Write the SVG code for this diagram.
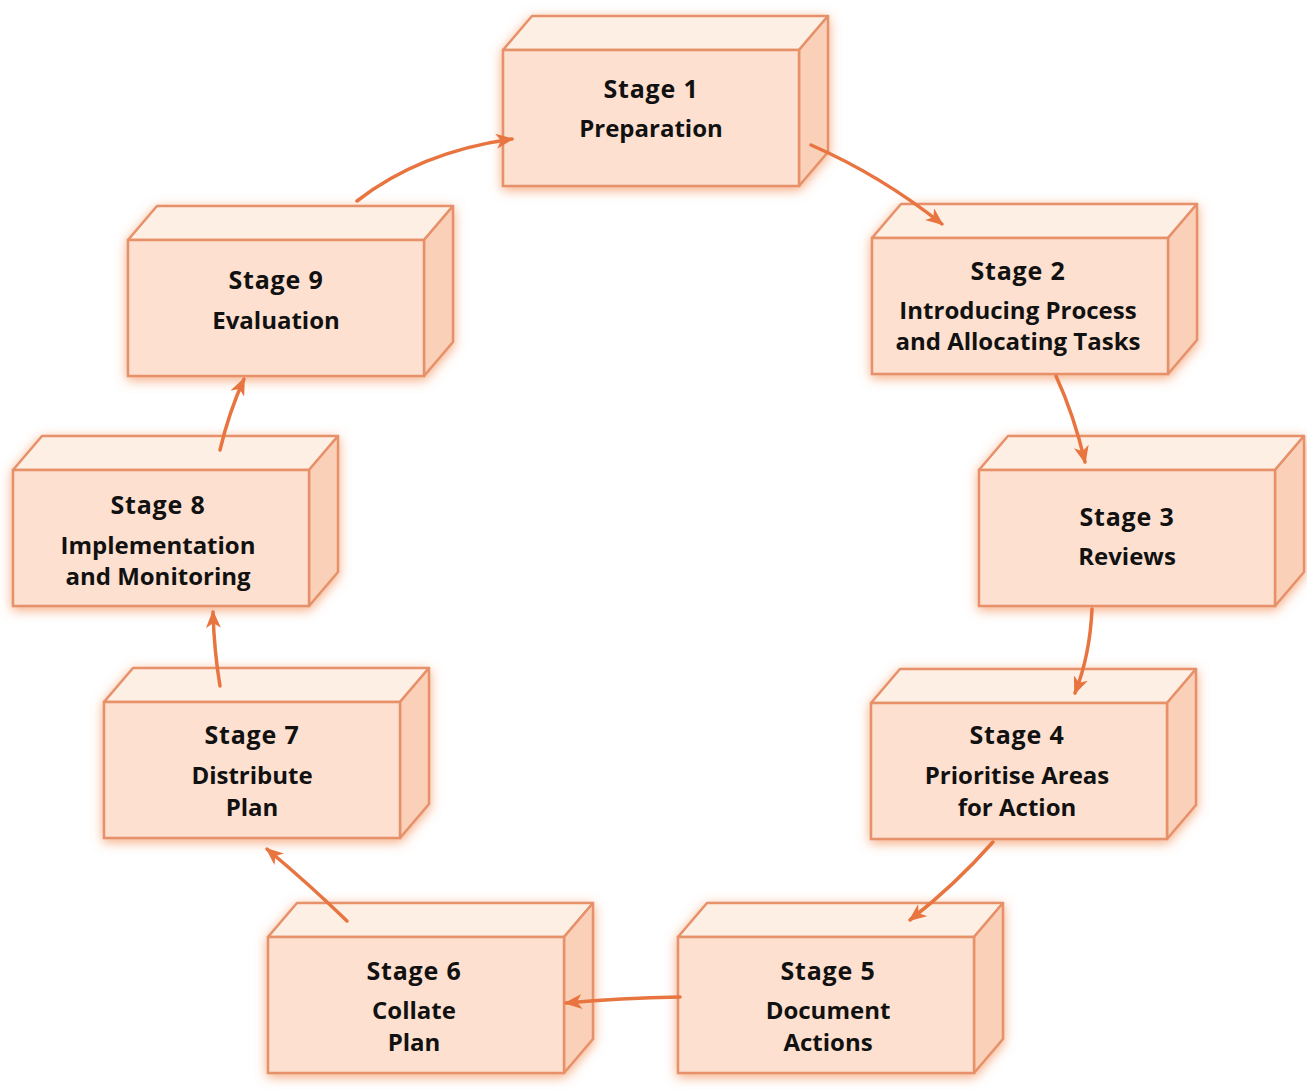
<svg xmlns="http://www.w3.org/2000/svg" xmlns:xlink="http://www.w3.org/1999/xlink" width="1307" height="1090" viewBox="0 0 1307 1090">
<style>
.front{fill:#fde0cf;stroke:#e6916a;stroke-width:2.5}
.top{fill:#feefe5;stroke:#e6916a;stroke-width:2.5;stroke-linejoin:round}
.side{fill:#fad0b8;stroke:#e6916a;stroke-width:2.5;stroke-linejoin:round}
.lbl{font-family:"Open Sans","Liberation Sans",sans-serif;font-weight:700;font-size:24px;fill:#111;text-anchor:middle}
.st{font-size:25px;letter-spacing:0.8px}
.arrow{fill:none;stroke:#e8743f;stroke-width:3.5;stroke-linecap:round;marker-end:url(#ah)}
</style>
<defs>
<filter id="glow" x="-20%" y="-30%" width="140%" height="160%">
<feGaussianBlur in="SourceAlpha" stdDeviation="6" result="b"/>
<feFlood flood-color="#f28f58" flood-opacity="0.75"/>
<feComposite in2="b" operator="in" result="s"/>
<feOffset dx="0" dy="3"/>
<feMerge><feMergeNode/><feMergeNode in="SourceGraphic"/></feMerge>
</filter>
<marker id="ah" viewBox="0 0 18 15" refX="16" refY="7.5" markerWidth="18" markerHeight="15" markerUnits="userSpaceOnUse" orient="auto">
<path d="M0,0 L18,7.5 L0,15 L5,7.5 Z" fill="#e8743f"/>
</marker>
<g id="box" filter="url(#glow)">
<polygon class="top" points="0,0 29,-34 325,-34 296,0"/>
<polygon class="side" points="296,0 325,-34 325,102 296,136"/>
<rect class="front" x="0" y="0" width="296" height="136"/>
</g>
</defs>
<rect width="1307" height="1090" fill="#ffffff"/>
<g id="stage1" transform="translate(503,50)"><use xlink:href="#box"/><text class="lbl st" x="148" y="48">Stage 1</text><text class="lbl" x="148" y="87">Preparation</text></g>
<g id="stage2" transform="translate(872,238)"><use xlink:href="#box"/><text class="lbl st" x="146" y="42">Stage 2</text><text class="lbl" x="146" y="81">Introducing Process</text><text class="lbl" x="146" y="112">and Allocating Tasks</text></g>
<g id="stage3" transform="translate(979,470)"><use xlink:href="#box"/><text class="lbl st" x="148" y="56">Stage 3</text><text class="lbl" x="148" y="95">Reviews</text></g>
<g id="stage4" transform="translate(871,703)"><use xlink:href="#box"/><text class="lbl st" x="146" y="41">Stage 4</text><text class="lbl" x="146" y="81">Prioritise Areas</text><text class="lbl" x="146" y="113">for Action</text></g>
<g id="stage5" transform="translate(678,937)"><use xlink:href="#box"/><text class="lbl st" x="150" y="43">Stage 5</text><text class="lbl" x="150" y="82">Document</text><text class="lbl" x="150" y="114">Actions</text></g>
<g id="stage6" transform="translate(268,937)"><use xlink:href="#box"/><text class="lbl st" x="146" y="43">Stage 6</text><text class="lbl" x="146" y="82">Collate</text><text class="lbl" x="146" y="114">Plan</text></g>
<g id="stage7" transform="translate(104,702)"><use xlink:href="#box"/><text class="lbl st" x="148" y="42">Stage 7</text><text class="lbl" x="148" y="82">Distribute</text><text class="lbl" x="148" y="114">Plan</text></g>
<g id="stage8" transform="translate(13,470)"><use xlink:href="#box"/><text class="lbl st" x="145" y="44">Stage 8</text><text class="lbl" x="145" y="84">Implementation</text><text class="lbl" x="145" y="115">and Monitoring</text></g>
<g id="stage9" transform="translate(128,240)"><use xlink:href="#box"/><text class="lbl st" x="148" y="49">Stage 9</text><text class="lbl" x="148" y="89">Evaluation</text></g>
<g id="connectors">
<path class="arrow" d="M357,201 Q420,152 512,139"/>
<path class="arrow" d="M811,145 Q880,175 942,224"/>
<path class="arrow" d="M1056,376 Q1074,415 1085,462"/>
<path class="arrow" d="M1092,609 Q1090,655 1075,693"/>
<path class="arrow" d="M993,842 Q955,885 910,920"/>
<path class="arrow" d="M680,997 Q620,998 566,1003"/>
<path class="arrow" d="M347,921 Q310,885 267,849"/>
<path class="arrow" d="M220,686 Q214,650 213,612"/>
<path class="arrow" d="M220,450 Q229,412 244,379"/>
</g>
</svg>
